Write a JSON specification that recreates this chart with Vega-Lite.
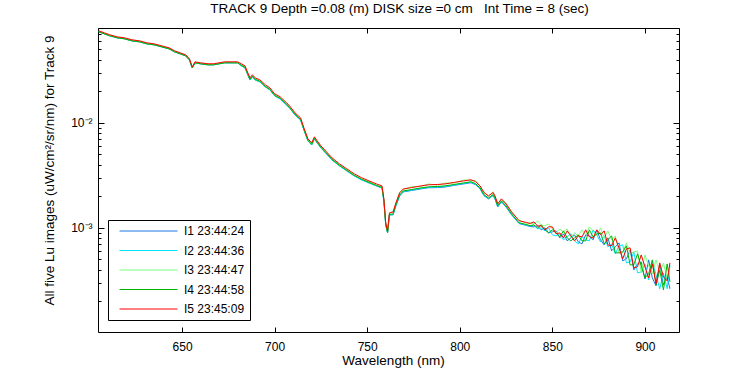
{
"$schema": "https://vega.github.io/schema/vega-lite/v6.json",
"width": 581, "height": 304,
"autosize": {"type": "none"},
"padding": {"left": 98, "top": 28, "right": 71, "bottom": 43},
"background": "white",
"config": {"font": "Liberation Sans", "view": {"stroke": "black", "strokeWidth": 1},
  "axis": {"grid": false, "domain": false, "labelFontSize": 12, "labelColor": "black", "titleFontSize": 13.5, "titleFontWeight": "normal", "titleColor": "black", "tickColor": "black", "labelFont": "Liberation Sans", "titleFont": "Liberation Sans"}},
"title": {"text": "TRACK 9 Depth =0.08 (m) DISK size =0 cm\u00a0\u00a0 Int Time = 8 (sec)", "fontSize": 13.5, "fontWeight": "normal", "color": "black", "frame": "group", "anchor": "middle", "offset": 7, "dx": 11, "font": "Liberation Sans"},
"data": {"values": [
{"s":"I1 23:44:24","w":605,"v":0.0735},{"s":"I1 23:44:24","w":608,"v":0.0704},{"s":"I1 23:44:24","w":611,"v":0.0674},{"s":"I1 23:44:24","w":615,"v":0.0645},{"s":"I1 23:44:24","w":619,"v":0.0631},{"s":"I1 23:44:24","w":623,"v":0.0603},{"s":"I1 23:44:24","w":627,"v":0.0591},{"s":"I1 23:44:24","w":631,"v":0.0565},{"s":"I1 23:44:24","w":635,"v":0.0553},{"s":"I1 23:44:24","w":639,"v":0.0529},{"s":"I1 23:44:24","w":643,"v":0.0507},{"s":"I1 23:44:24","w":646,"v":0.0474},{"s":"I1 23:44:24","w":649,"v":0.0454},{"s":"I1 23:44:24","w":652,"v":0.0434},{"s":"I1 23:44:24","w":654,"v":0.0398},{"s":"I1 23:44:24","w":655.5,"v":0.0333},{"s":"I1 23:44:24","w":657,"v":0.0373},{"s":"I1 23:44:24","w":660,"v":0.0365},{"s":"I1 23:44:24","w":664,"v":0.0357},{"s":"I1 23:44:24","w":667,"v":0.0357},{"s":"I1 23:44:24","w":670,"v":0.0365},{"s":"I1 23:44:24","w":673,"v":0.0373},{"s":"I1 23:44:24","w":677,"v":0.0373},{"s":"I1 23:44:24","w":680,"v":0.0373},
{"s":"I1 23:44:24","w":682,"v":0.0349},{"s":"I1 23:44:24","w":684,"v":0.0334},{"s":"I1 23:44:24","w":685.5,"v":0.0287},{"s":"I1 23:44:24","w":686.7,"v":0.0256},{"s":"I1 23:44:24","w":688,"v":0.0275},{"s":"I1 23:44:24","w":689.5,"v":0.0256},{"s":"I1 23:44:24","w":692,"v":0.0246},{"s":"I1 23:44:24","w":695,"v":0.0220},{"s":"I1 23:44:24","w":697.5,"v":0.0206},{"s":"I1 23:44:24","w":700,"v":0.0181},{"s":"I1 23:44:24","w":703,"v":0.0169},{"s":"I1 23:44:24","w":706.5,"v":0.0148},{"s":"I1 23:44:24","w":708.5,"v":0.0136},{"s":"I1 23:44:24","w":711,"v":0.01191},{"s":"I1 23:44:24","w":714,"v":0.01068},{"s":"I1 23:44:24","w":716,"v":0.00839},{"s":"I1 23:44:24","w":718,"v":0.00674},{"s":"I1 23:44:24","w":720,"v":0.00617},{"s":"I1 23:44:24","w":721.5,"v":0.00704},{"s":"I1 23:44:24","w":723,"v":0.00645},{"s":"I1 23:44:24","w":725,"v":0.00578},{"s":"I1 23:44:24","w":728,"v":0.00507},{"s":"I1 23:44:24","w":731,"v":0.00444},{"s":"I1 23:44:24","w":735,"v":0.00390},{"s":"I1 23:44:24","w":739,"v":0.00349},{"s":"I1 23:44:24","w":743,"v":0.00313},{"s":"I1 23:44:24","w":747,"v":0.00287},{"s":"I1 23:44:24","w":751,"v":0.00268},{"s":"I1 23:44:24","w":755,"v":0.00251},{"s":"I1 23:44:24","w":758,"v":0.00240},{"s":"I1 23:44:24","w":759,"v":0.00181},{"s":"I1 23:44:24","w":760,"v":0.00107},{"s":"I1 23:44:24","w":761,"v":0.000896},{"s":"I1 23:44:24","w":762,"v":0.00133},
{"s":"I1 23:44:24","w":764,"v":0.00133},{"s":"I1 23:44:24","w":765.5,"v":0.00162},{"s":"I1 23:44:24","w":767.5,"v":0.00201},{"s":"I1 23:44:24","w":769.5,"v":0.00220},{"s":"I1 23:44:24","w":774,"v":0.00227},{"s":"I1 23:44:24","w":779,"v":0.00235},{"s":"I1 23:44:24","w":783,"v":0.00241},{"s":"I1 23:44:24","w":788,"v":0.00242},{"s":"I1 23:44:24","w":792,"v":0.00245},{"s":"I1 23:44:24","w":797,"v":0.00254},{"s":"I1 23:44:24","w":802,"v":0.00262},{"s":"I1 23:44:24","w":806,"v":0.00269},{"s":"I1 23:44:24","w":808.5,"v":0.00258},{"s":"I1 23:44:24","w":811,"v":0.00235},{"s":"I1 23:44:24","w":813,"v":0.00203},{"s":"I1 23:44:24","w":815.5,"v":0.00189},{"s":"I1 23:44:24","w":818,"v":0.00203},{"s":"I1 23:44:24","w":819,"v":0.00189},{"s":"I1 23:44:24","w":820.5,"v":0.00158},{"s":"I1 23:44:24","w":822.5,"v":0.00177},{"s":"I1 23:44:24","w":825,"v":0.00158},{"s":"I1 23:44:24","w":828,"v":0.00133},{"s":"I1 23:44:24","w":832,"v":0.00110},{"s":"I1 23:44:24","w":835.5,"v":0.00106},{"s":"I1 23:44:24","w":838,"v":0.00103},
{"s":"I1 23:44:24","w":840,"v":0.001022},{"s":"I1 23:44:24","w":842,"v":0.001045},{"s":"I1 23:44:24","w":844,"v":0.000957},{"s":"I1 23:44:24","w":846,"v":0.001000},{"s":"I1 23:44:24","w":848,"v":0.000896},{"s":"I1 23:44:24","w":850,"v":0.000916},{"s":"I1 23:44:24","w":852,"v":0.000936},{"s":"I1 23:44:24","w":854,"v":0.000803},{"s":"I1 23:44:24","w":856,"v":0.000877},{"s":"I1 23:44:24","w":858,"v":0.000752},{"s":"I1 23:44:24","w":860,"v":0.000803},{"s":"I1 23:44:24","w":862,"v":0.000858},{"s":"I1 23:44:24","w":864,"v":0.000736},{"s":"I1 23:44:24","w":866,"v":0.000704},{"s":"I1 23:44:24","w":868,"v":0.000858},{"s":"I1 23:44:24","w":870,"v":0.000839},{"s":"I1 23:44:24","w":872,"v":0.000769},{"s":"I1 23:44:24","w":874,"v":0.000957},{"s":"I1 23:44:24","w":876,"v":0.000769},{"s":"I1 23:44:24","w":878,"v":0.000689},{"s":"I1 23:44:24","w":880,"v":0.000803},{"s":"I1 23:44:24","w":882,"v":0.000604},{"s":"I1 23:44:24","w":884,"v":0.000659},{"s":"I1 23:44:24","w":886,"v":0.000720},{"s":"I1 23:44:24","w":888,"v":0.000485},{"s":"I1 23:44:24","w":890,"v":0.000507},{"s":"I1 23:44:24","w":892,"v":0.000617},{"s":"I1 23:44:24","w":894,"v":0.000398},{"s":"I1 23:44:24","w":896,"v":0.000455},{"s":"I1 23:44:24","w":898,"v":0.000474},{"s":"I1 23:44:24","w":900,"v":0.000326},{"s":"I1 23:44:24","w":902,"v":0.000496},{"s":"I1 23:44:24","w":904,"v":0.000334},{"s":"I1 23:44:24","w":906,"v":0.000280},{"s":"I1 23:44:24","w":908,"v":0.000444},{"s":"I1 23:44:24","w":910,"v":0.000286},{"s":"I1 23:44:24","w":912,"v":0.000342},{"s":"I1 23:44:24","w":913.5,"v":0.000263},

{"s":"I2 23:44:36","w":605,"v":0.0735},{"s":"I2 23:44:36","w":608,"v":0.0704},{"s":"I2 23:44:36","w":611,"v":0.0674},{"s":"I2 23:44:36","w":615,"v":0.0645},{"s":"I2 23:44:36","w":619,"v":0.0631},{"s":"I2 23:44:36","w":623,"v":0.0603},{"s":"I2 23:44:36","w":627,"v":0.0591},{"s":"I2 23:44:36","w":631,"v":0.0565},{"s":"I2 23:44:36","w":635,"v":0.0553},{"s":"I2 23:44:36","w":639,"v":0.0529},{"s":"I2 23:44:36","w":643,"v":0.0507},{"s":"I2 23:44:36","w":646,"v":0.0474},{"s":"I2 23:44:36","w":649,"v":0.0454},{"s":"I2 23:44:36","w":652,"v":0.0434},{"s":"I2 23:44:36","w":654,"v":0.0398},{"s":"I2 23:44:36","w":655.5,"v":0.0333},{"s":"I2 23:44:36","w":657,"v":0.0373},{"s":"I2 23:44:36","w":660,"v":0.0365},{"s":"I2 23:44:36","w":664,"v":0.0357},{"s":"I2 23:44:36","w":667,"v":0.0357},{"s":"I2 23:44:36","w":670,"v":0.0365},{"s":"I2 23:44:36","w":673,"v":0.0373},{"s":"I2 23:44:36","w":677,"v":0.0373},{"s":"I2 23:44:36","w":680,"v":0.0373},
{"s":"I2 23:44:36","w":682,"v":0.0349},{"s":"I2 23:44:36","w":684,"v":0.0334},{"s":"I2 23:44:36","w":685.5,"v":0.0287},{"s":"I2 23:44:36","w":686.7,"v":0.0256},{"s":"I2 23:44:36","w":688,"v":0.0275},{"s":"I2 23:44:36","w":689.5,"v":0.0256},{"s":"I2 23:44:36","w":692,"v":0.0246},{"s":"I2 23:44:36","w":695,"v":0.0220},{"s":"I2 23:44:36","w":697.5,"v":0.0206},{"s":"I2 23:44:36","w":700,"v":0.0181},{"s":"I2 23:44:36","w":703,"v":0.0169},{"s":"I2 23:44:36","w":706.5,"v":0.0148},{"s":"I2 23:44:36","w":708.5,"v":0.0136},{"s":"I2 23:44:36","w":711,"v":0.01191},{"s":"I2 23:44:36","w":714,"v":0.01068},{"s":"I2 23:44:36","w":716,"v":0.00839},{"s":"I2 23:44:36","w":718,"v":0.00674},{"s":"I2 23:44:36","w":720,"v":0.00617},{"s":"I2 23:44:36","w":721.5,"v":0.00704},{"s":"I2 23:44:36","w":723,"v":0.00645},{"s":"I2 23:44:36","w":725,"v":0.00578},{"s":"I2 23:44:36","w":728,"v":0.00507},{"s":"I2 23:44:36","w":731,"v":0.00444},{"s":"I2 23:44:36","w":735,"v":0.00390},{"s":"I2 23:44:36","w":739,"v":0.00349},{"s":"I2 23:44:36","w":743,"v":0.00313},{"s":"I2 23:44:36","w":747,"v":0.00287},{"s":"I2 23:44:36","w":751,"v":0.00268},{"s":"I2 23:44:36","w":755,"v":0.00251},{"s":"I2 23:44:36","w":758,"v":0.00240},{"s":"I2 23:44:36","w":759,"v":0.00181},{"s":"I2 23:44:36","w":760,"v":0.00107},{"s":"I2 23:44:36","w":761,"v":0.000896},{"s":"I2 23:44:36","w":762,"v":0.00133},
{"s":"I2 23:44:36","w":764,"v":0.00134},{"s":"I2 23:44:36","w":765.5,"v":0.00164},{"s":"I2 23:44:36","w":767.5,"v":0.00203},{"s":"I2 23:44:36","w":769.5,"v":0.00222},{"s":"I2 23:44:36","w":774,"v":0.00229},{"s":"I2 23:44:36","w":779,"v":0.00237},{"s":"I2 23:44:36","w":783,"v":0.00243},{"s":"I2 23:44:36","w":788,"v":0.00245},{"s":"I2 23:44:36","w":792,"v":0.00248},{"s":"I2 23:44:36","w":797,"v":0.00256},{"s":"I2 23:44:36","w":802,"v":0.00265},{"s":"I2 23:44:36","w":806,"v":0.00272},{"s":"I2 23:44:36","w":808.5,"v":0.00261},{"s":"I2 23:44:36","w":811,"v":0.00237},{"s":"I2 23:44:36","w":813,"v":0.00205},{"s":"I2 23:44:36","w":815.5,"v":0.00191},{"s":"I2 23:44:36","w":818,"v":0.00205},{"s":"I2 23:44:36","w":819,"v":0.00191},{"s":"I2 23:44:36","w":820.5,"v":0.00160},{"s":"I2 23:44:36","w":822.5,"v":0.00179},{"s":"I2 23:44:36","w":825,"v":0.00160},{"s":"I2 23:44:36","w":828,"v":0.00134},{"s":"I2 23:44:36","w":832,"v":0.00111},{"s":"I2 23:44:36","w":835.5,"v":0.00107},{"s":"I2 23:44:36","w":838,"v":0.00104},
{"s":"I2 23:44:36","w":840,"v":0.001068},{"s":"I2 23:44:36","w":842,"v":0.000978},{"s":"I2 23:44:36","w":844,"v":0.001000},{"s":"I2 23:44:36","w":846,"v":0.000936},{"s":"I2 23:44:36","w":848,"v":0.001000},{"s":"I2 23:44:36","w":850,"v":0.000858},{"s":"I2 23:44:36","w":852,"v":0.000839},{"s":"I2 23:44:36","w":854,"v":0.000876},{"s":"I2 23:44:36","w":856,"v":0.000769},{"s":"I2 23:44:36","w":858,"v":0.000821},{"s":"I2 23:44:36","w":860,"v":0.000877},{"s":"I2 23:44:36","w":862,"v":0.000752},{"s":"I2 23:44:36","w":864,"v":0.000704},{"s":"I2 23:44:36","w":866,"v":0.000821},{"s":"I2 23:44:36","w":868,"v":0.000769},{"s":"I2 23:44:36","w":870,"v":0.000752},{"s":"I2 23:44:36","w":872,"v":0.000957},{"s":"I2 23:44:36","w":874,"v":0.000857},{"s":"I2 23:44:36","w":876,"v":0.000736},{"s":"I2 23:44:36","w":878,"v":0.000839},{"s":"I2 23:44:36","w":880,"v":0.000659},{"s":"I2 23:44:36","w":882,"v":0.000704},{"s":"I2 23:44:36","w":884,"v":0.000566},{"s":"I2 23:44:36","w":886,"v":0.000674},{"s":"I2 23:44:36","w":888,"v":0.000689},{"s":"I2 23:44:36","w":890,"v":0.000464},{"s":"I2 23:44:36","w":892,"v":0.000474},{"s":"I2 23:44:36","w":894,"v":0.000591},{"s":"I2 23:44:36","w":896,"v":0.000373},{"s":"I2 23:44:36","w":898,"v":0.000381},{"s":"I2 23:44:36","w":900,"v":0.000454},{"s":"I2 23:44:36","w":902,"v":0.000319},{"s":"I2 23:44:36","w":904,"v":0.000485},{"s":"I2 23:44:36","w":906,"v":0.000357},{"s":"I2 23:44:36","w":908,"v":0.000263},{"s":"I2 23:44:36","w":910,"v":0.000372},{"s":"I2 23:44:36","w":912,"v":0.000263},{"s":"I2 23:44:36","w":913.5,"v":0.000444},

{"s":"I3 23:44:47","w":605,"v":0.0744},{"s":"I3 23:44:47","w":608,"v":0.0712},{"s":"I3 23:44:47","w":611,"v":0.0681},{"s":"I3 23:44:47","w":615,"v":0.0652},{"s":"I3 23:44:47","w":619,"v":0.0638},{"s":"I3 23:44:47","w":623,"v":0.0610},{"s":"I3 23:44:47","w":627,"v":0.0597},{"s":"I3 23:44:47","w":631,"v":0.0572},{"s":"I3 23:44:47","w":635,"v":0.0559},{"s":"I3 23:44:47","w":639,"v":0.0535},{"s":"I3 23:44:47","w":643,"v":0.0512},{"s":"I3 23:44:47","w":646,"v":0.0480},{"s":"I3 23:44:47","w":649,"v":0.0459},{"s":"I3 23:44:47","w":652,"v":0.0439},{"s":"I3 23:44:47","w":654,"v":0.0403},{"s":"I3 23:44:47","w":655.5,"v":0.0337},{"s":"I3 23:44:47","w":657,"v":0.0377},{"s":"I3 23:44:47","w":660,"v":0.0369},{"s":"I3 23:44:47","w":664,"v":0.0361},{"s":"I3 23:44:47","w":667,"v":0.0361},{"s":"I3 23:44:47","w":670,"v":0.0369},{"s":"I3 23:44:47","w":673,"v":0.0377},{"s":"I3 23:44:47","w":677,"v":0.0377},{"s":"I3 23:44:47","w":680,"v":0.0377},
{"s":"I3 23:44:47","w":682,"v":0.0357},{"s":"I3 23:44:47","w":684,"v":0.0341},{"s":"I3 23:44:47","w":685.5,"v":0.0293},{"s":"I3 23:44:47","w":686.7,"v":0.0262},{"s":"I3 23:44:47","w":688,"v":0.0281},{"s":"I3 23:44:47","w":689.5,"v":0.0262},{"s":"I3 23:44:47","w":692,"v":0.0251},{"s":"I3 23:44:47","w":695,"v":0.0225},{"s":"I3 23:44:47","w":697.5,"v":0.0210},{"s":"I3 23:44:47","w":700,"v":0.0185},{"s":"I3 23:44:47","w":703,"v":0.0173},{"s":"I3 23:44:47","w":706.5,"v":0.0152},{"s":"I3 23:44:47","w":708.5,"v":0.0139},{"s":"I3 23:44:47","w":711,"v":0.01218},{"s":"I3 23:44:47","w":714,"v":0.01091},{"s":"I3 23:44:47","w":716,"v":0.00858},{"s":"I3 23:44:47","w":718,"v":0.00689},{"s":"I3 23:44:47","w":720,"v":0.00631},{"s":"I3 23:44:47","w":721.5,"v":0.00720},{"s":"I3 23:44:47","w":723,"v":0.00659},{"s":"I3 23:44:47","w":725,"v":0.00591},{"s":"I3 23:44:47","w":728,"v":0.00518},{"s":"I3 23:44:47","w":731,"v":0.00454},{"s":"I3 23:44:47","w":735,"v":0.00398},{"s":"I3 23:44:47","w":739,"v":0.00357},{"s":"I3 23:44:47","w":743,"v":0.00320},{"s":"I3 23:44:47","w":747,"v":0.00293},{"s":"I3 23:44:47","w":751,"v":0.00274},{"s":"I3 23:44:47","w":755,"v":0.00256},{"s":"I3 23:44:47","w":758,"v":0.00245},{"s":"I3 23:44:47","w":759,"v":0.00185},{"s":"I3 23:44:47","w":760,"v":0.00110},{"s":"I3 23:44:47","w":761,"v":0.000915},{"s":"I3 23:44:47","w":762,"v":0.00136},
{"s":"I3 23:44:47","w":764,"v":0.00145},{"s":"I3 23:44:47","w":765.5,"v":0.00170},{"s":"I3 23:44:47","w":767.5,"v":0.00219},{"s":"I3 23:44:47","w":769.5,"v":0.00231},{"s":"I3 23:44:47","w":774,"v":0.00247},{"s":"I3 23:44:47","w":779,"v":0.00247},{"s":"I3 23:44:47","w":783,"v":0.00262},{"s":"I3 23:44:47","w":788,"v":0.00255},{"s":"I3 23:44:47","w":792,"v":0.00267},{"s":"I3 23:44:47","w":797,"v":0.00267},{"s":"I3 23:44:47","w":802,"v":0.00286},{"s":"I3 23:44:47","w":806,"v":0.00283},{"s":"I3 23:44:47","w":808.5,"v":0.00282},{"s":"I3 23:44:47","w":811,"v":0.00247},{"s":"I3 23:44:47","w":813,"v":0.00221},{"s":"I3 23:44:47","w":815.5,"v":0.00199},{"s":"I3 23:44:47","w":818,"v":0.00221},{"s":"I3 23:44:47","w":819,"v":0.00199},{"s":"I3 23:44:47","w":820.5,"v":0.00172},{"s":"I3 23:44:47","w":822.5,"v":0.00186},{"s":"I3 23:44:47","w":825,"v":0.00172},{"s":"I3 23:44:47","w":828,"v":0.00140},{"s":"I3 23:44:47","w":832,"v":0.00119},{"s":"I3 23:44:47","w":835.5,"v":0.00111},{"s":"I3 23:44:47","w":838,"v":0.00112},
{"s":"I3 23:44:47","w":840,"v":0.001092},{"s":"I3 23:44:47","w":842,"v":0.001166},{"s":"I3 23:44:47","w":844,"v":0.001068},{"s":"I3 23:44:47","w":846,"v":0.001045},{"s":"I3 23:44:47","w":848,"v":0.001091},{"s":"I3 23:44:47","w":850,"v":0.000978},{"s":"I3 23:44:47","w":852,"v":0.000896},{"s":"I3 23:44:47","w":854,"v":0.000978},{"s":"I3 23:44:47","w":856,"v":0.000916},{"s":"I3 23:44:47","w":858,"v":0.000979},{"s":"I3 23:44:47","w":860,"v":0.000803},{"s":"I3 23:44:47","w":862,"v":0.000897},{"s":"I3 23:44:47","w":864,"v":0.000839},{"s":"I3 23:44:47","w":866,"v":0.000957},{"s":"I3 23:44:47","w":868,"v":0.000858},{"s":"I3 23:44:47","w":870,"v":0.001023},{"s":"I3 23:44:47","w":872,"v":0.000936},{"s":"I3 23:44:47","w":874,"v":0.000839},{"s":"I3 23:44:47","w":876,"v":0.001000},{"s":"I3 23:44:47","w":878,"v":0.000803},{"s":"I3 23:44:47","w":880,"v":0.000937},{"s":"I3 23:44:47","w":882,"v":0.000769},{"s":"I3 23:44:47","w":884,"v":0.000839},{"s":"I3 23:44:47","w":886,"v":0.000578},{"s":"I3 23:44:47","w":888,"v":0.000578},{"s":"I3 23:44:47","w":890,"v":0.000720},{"s":"I3 23:44:47","w":892,"v":0.000565},{"s":"I3 23:44:47","w":894,"v":0.000591},{"s":"I3 23:44:47","w":896,"v":0.000605},{"s":"I3 23:44:47","w":898,"v":0.000373},{"s":"I3 23:44:47","w":900,"v":0.000553},{"s":"I3 23:44:47","w":902,"v":0.000435},{"s":"I3 23:44:47","w":904,"v":0.000365},{"s":"I3 23:44:47","w":906,"v":0.000496},{"s":"I3 23:44:47","w":908,"v":0.000373},{"s":"I3 23:44:47","w":910,"v":0.000463},{"s":"I3 23:44:47","w":912,"v":0.000327},{"s":"I3 23:44:47","w":913.5,"v":0.000426},

{"s":"I4 23:44:58","w":605,"v":0.0735},{"s":"I4 23:44:58","w":608,"v":0.0704},{"s":"I4 23:44:58","w":611,"v":0.0674},{"s":"I4 23:44:58","w":615,"v":0.0645},{"s":"I4 23:44:58","w":619,"v":0.0631},{"s":"I4 23:44:58","w":623,"v":0.0603},{"s":"I4 23:44:58","w":627,"v":0.0591},{"s":"I4 23:44:58","w":631,"v":0.0565},{"s":"I4 23:44:58","w":635,"v":0.0553},{"s":"I4 23:44:58","w":639,"v":0.0529},{"s":"I4 23:44:58","w":643,"v":0.0507},{"s":"I4 23:44:58","w":646,"v":0.0474},{"s":"I4 23:44:58","w":649,"v":0.0454},{"s":"I4 23:44:58","w":652,"v":0.0434},{"s":"I4 23:44:58","w":654,"v":0.0398},{"s":"I4 23:44:58","w":655.5,"v":0.0333},{"s":"I4 23:44:58","w":657,"v":0.0373},{"s":"I4 23:44:58","w":660,"v":0.0365},{"s":"I4 23:44:58","w":664,"v":0.0357},{"s":"I4 23:44:58","w":667,"v":0.0357},{"s":"I4 23:44:58","w":670,"v":0.0365},{"s":"I4 23:44:58","w":673,"v":0.0373},{"s":"I4 23:44:58","w":677,"v":0.0373},{"s":"I4 23:44:58","w":680,"v":0.0373},
{"s":"I4 23:44:58","w":682,"v":0.0353},{"s":"I4 23:44:58","w":684,"v":0.0337},{"s":"I4 23:44:58","w":685.5,"v":0.0290},{"s":"I4 23:44:58","w":686.7,"v":0.0259},{"s":"I4 23:44:58","w":688,"v":0.0278},{"s":"I4 23:44:58","w":689.5,"v":0.0259},{"s":"I4 23:44:58","w":692,"v":0.0249},{"s":"I4 23:44:58","w":695,"v":0.0222},{"s":"I4 23:44:58","w":697.5,"v":0.0208},{"s":"I4 23:44:58","w":700,"v":0.0183},{"s":"I4 23:44:58","w":703,"v":0.0171},{"s":"I4 23:44:58","w":706.5,"v":0.0150},{"s":"I4 23:44:58","w":708.5,"v":0.0137},{"s":"I4 23:44:58","w":711,"v":0.01204},{"s":"I4 23:44:58","w":714,"v":0.01079},{"s":"I4 23:44:58","w":716,"v":0.00848},{"s":"I4 23:44:58","w":718,"v":0.00681},{"s":"I4 23:44:58","w":720,"v":0.00624},{"s":"I4 23:44:58","w":721.5,"v":0.00712},{"s":"I4 23:44:58","w":723,"v":0.00652},{"s":"I4 23:44:58","w":725,"v":0.00584},{"s":"I4 23:44:58","w":728,"v":0.00513},{"s":"I4 23:44:58","w":731,"v":0.00449},{"s":"I4 23:44:58","w":735,"v":0.00394},{"s":"I4 23:44:58","w":739,"v":0.00353},{"s":"I4 23:44:58","w":743,"v":0.00316},{"s":"I4 23:44:58","w":747,"v":0.00290},{"s":"I4 23:44:58","w":751,"v":0.00271},{"s":"I4 23:44:58","w":755,"v":0.00253},{"s":"I4 23:44:58","w":758,"v":0.00243},{"s":"I4 23:44:58","w":759,"v":0.00183},{"s":"I4 23:44:58","w":760,"v":0.00108},{"s":"I4 23:44:58","w":761,"v":0.000905},{"s":"I4 23:44:58","w":762,"v":0.00134},
{"s":"I4 23:44:58","w":764,"v":0.00136},{"s":"I4 23:44:58","w":765.5,"v":0.00166},{"s":"I4 23:44:58","w":767.5,"v":0.00206},{"s":"I4 23:44:58","w":769.5,"v":0.00225},{"s":"I4 23:44:58","w":774,"v":0.00232},{"s":"I4 23:44:58","w":779,"v":0.00240},{"s":"I4 23:44:58","w":783,"v":0.00246},{"s":"I4 23:44:58","w":788,"v":0.00248},{"s":"I4 23:44:58","w":792,"v":0.00251},{"s":"I4 23:44:58","w":797,"v":0.00259},{"s":"I4 23:44:58","w":802,"v":0.00268},{"s":"I4 23:44:58","w":806,"v":0.00275},{"s":"I4 23:44:58","w":808.5,"v":0.00264},{"s":"I4 23:44:58","w":811,"v":0.00240},{"s":"I4 23:44:58","w":813,"v":0.00208},{"s":"I4 23:44:58","w":815.5,"v":0.00193},{"s":"I4 23:44:58","w":818,"v":0.00208},{"s":"I4 23:44:58","w":819,"v":0.00193},{"s":"I4 23:44:58","w":820.5,"v":0.00162},{"s":"I4 23:44:58","w":822.5,"v":0.00181},{"s":"I4 23:44:58","w":825,"v":0.00162},{"s":"I4 23:44:58","w":828,"v":0.00136},{"s":"I4 23:44:58","w":832,"v":0.00112},{"s":"I4 23:44:58","w":835.5,"v":0.00108},{"s":"I4 23:44:58","w":838,"v":0.00105},
{"s":"I4 23:44:58","w":840,"v":0.001068},{"s":"I4 23:44:58","w":842,"v":0.001000},{"s":"I4 23:44:58","w":844,"v":0.001068},{"s":"I4 23:44:58","w":846,"v":0.000957},{"s":"I4 23:44:58","w":848,"v":0.000896},{"s":"I4 23:44:58","w":850,"v":0.000957},{"s":"I4 23:44:58","w":852,"v":0.000896},{"s":"I4 23:44:58","w":854,"v":0.000821},{"s":"I4 23:44:58","w":856,"v":0.000937},{"s":"I4 23:44:58","w":858,"v":0.000803},{"s":"I4 23:44:58","w":860,"v":0.000752},{"s":"I4 23:44:58","w":862,"v":0.000803},{"s":"I4 23:44:58","w":864,"v":0.000858},{"s":"I4 23:44:58","w":866,"v":0.000752},{"s":"I4 23:44:58","w":868,"v":0.000752},{"s":"I4 23:44:58","w":870,"v":0.000958},{"s":"I4 23:44:58","w":872,"v":0.000821},{"s":"I4 23:44:58","w":874,"v":0.000876},{"s":"I4 23:44:58","w":876,"v":0.000897},{"s":"I4 23:44:58","w":878,"v":0.000704},{"s":"I4 23:44:58","w":880,"v":0.000769},{"s":"I4 23:44:58","w":882,"v":0.000840},{"s":"I4 23:44:58","w":884,"v":0.000578},{"s":"I4 23:44:58","w":886,"v":0.000578},{"s":"I4 23:44:58","w":888,"v":0.000591},{"s":"I4 23:44:58","w":890,"v":0.000674},{"s":"I4 23:44:58","w":892,"v":0.000444},{"s":"I4 23:44:58","w":894,"v":0.000445},{"s":"I4 23:44:58","w":896,"v":0.000566},{"s":"I4 23:44:58","w":898,"v":0.000434},{"s":"I4 23:44:58","w":900,"v":0.000334},{"s":"I4 23:44:58","w":902,"v":0.000365},{"s":"I4 23:44:58","w":904,"v":0.000496},{"s":"I4 23:44:58","w":906,"v":0.000286},{"s":"I4 23:44:58","w":908,"v":0.000398},{"s":"I4 23:44:58","w":910,"v":0.000256},{"s":"I4 23:44:58","w":912,"v":0.000454},{"s":"I4 23:44:58","w":913.5,"v":0.000306},

{"s":"I5 23:45:09","w":605,"v":0.0752},{"s":"I5 23:45:09","w":608,"v":0.0720},{"s":"I5 23:45:09","w":611,"v":0.0689},{"s":"I5 23:45:09","w":615,"v":0.0659},{"s":"I5 23:45:09","w":619,"v":0.0645},{"s":"I5 23:45:09","w":623,"v":0.0617},{"s":"I5 23:45:09","w":627,"v":0.0604},{"s":"I5 23:45:09","w":631,"v":0.0578},{"s":"I5 23:45:09","w":635,"v":0.0565},{"s":"I5 23:45:09","w":639,"v":0.0541},{"s":"I5 23:45:09","w":643,"v":0.0518},{"s":"I5 23:45:09","w":646,"v":0.0485},{"s":"I5 23:45:09","w":649,"v":0.0464},{"s":"I5 23:45:09","w":652,"v":0.0444},{"s":"I5 23:45:09","w":654,"v":0.0407},{"s":"I5 23:45:09","w":655.5,"v":0.0341},{"s":"I5 23:45:09","w":657,"v":0.0381},{"s":"I5 23:45:09","w":660,"v":0.0373},{"s":"I5 23:45:09","w":664,"v":0.0365},{"s":"I5 23:45:09","w":667,"v":0.0365},{"s":"I5 23:45:09","w":670,"v":0.0373},{"s":"I5 23:45:09","w":673,"v":0.0381},{"s":"I5 23:45:09","w":677,"v":0.0381},{"s":"I5 23:45:09","w":680,"v":0.0381},
{"s":"I5 23:45:09","w":682,"v":0.0365},{"s":"I5 23:45:09","w":684,"v":0.0349},{"s":"I5 23:45:09","w":685.5,"v":0.0300},{"s":"I5 23:45:09","w":686.7,"v":0.0268},{"s":"I5 23:45:09","w":688,"v":0.0287},{"s":"I5 23:45:09","w":689.5,"v":0.0268},{"s":"I5 23:45:09","w":692,"v":0.0257},{"s":"I5 23:45:09","w":695,"v":0.0230},{"s":"I5 23:45:09","w":697.5,"v":0.0215},{"s":"I5 23:45:09","w":700,"v":0.0189},{"s":"I5 23:45:09","w":703,"v":0.0177},{"s":"I5 23:45:09","w":706.5,"v":0.0155},{"s":"I5 23:45:09","w":708.5,"v":0.0142},{"s":"I5 23:45:09","w":711,"v":0.01245},{"s":"I5 23:45:09","w":714,"v":0.01116},{"s":"I5 23:45:09","w":716,"v":0.00877},{"s":"I5 23:45:09","w":718,"v":0.00704},{"s":"I5 23:45:09","w":720,"v":0.00645},{"s":"I5 23:45:09","w":721.5,"v":0.00736},{"s":"I5 23:45:09","w":723,"v":0.00674},{"s":"I5 23:45:09","w":725,"v":0.00604},{"s":"I5 23:45:09","w":728,"v":0.00530},{"s":"I5 23:45:09","w":731,"v":0.00464},{"s":"I5 23:45:09","w":735,"v":0.00407},{"s":"I5 23:45:09","w":739,"v":0.00365},{"s":"I5 23:45:09","w":743,"v":0.00327},{"s":"I5 23:45:09","w":747,"v":0.00300},{"s":"I5 23:45:09","w":751,"v":0.00280},{"s":"I5 23:45:09","w":755,"v":0.00262},{"s":"I5 23:45:09","w":758,"v":0.00251},{"s":"I5 23:45:09","w":759,"v":0.00189},{"s":"I5 23:45:09","w":760,"v":0.00112},{"s":"I5 23:45:09","w":761,"v":0.000936},{"s":"I5 23:45:09","w":762,"v":0.00139},
{"s":"I5 23:45:09","w":764,"v":0.00142},{"s":"I5 23:45:09","w":765.5,"v":0.00173},{"s":"I5 23:45:09","w":767.5,"v":0.00215},{"s":"I5 23:45:09","w":769.5,"v":0.00235},{"s":"I5 23:45:09","w":774,"v":0.00242},{"s":"I5 23:45:09","w":779,"v":0.00251},{"s":"I5 23:45:09","w":783,"v":0.00257},{"s":"I5 23:45:09","w":788,"v":0.00259},{"s":"I5 23:45:09","w":792,"v":0.00262},{"s":"I5 23:45:09","w":797,"v":0.00271},{"s":"I5 23:45:09","w":802,"v":0.00280},{"s":"I5 23:45:09","w":806,"v":0.00287},{"s":"I5 23:45:09","w":808.5,"v":0.00276},{"s":"I5 23:45:09","w":811,"v":0.00251},{"s":"I5 23:45:09","w":813,"v":0.00217},{"s":"I5 23:45:09","w":815.5,"v":0.00202},{"s":"I5 23:45:09","w":818,"v":0.00217},{"s":"I5 23:45:09","w":819,"v":0.00202},{"s":"I5 23:45:09","w":820.5,"v":0.00169},{"s":"I5 23:45:09","w":822.5,"v":0.00189},{"s":"I5 23:45:09","w":825,"v":0.00169},{"s":"I5 23:45:09","w":828,"v":0.00142},{"s":"I5 23:45:09","w":832,"v":0.00117},{"s":"I5 23:45:09","w":835.5,"v":0.00113},{"s":"I5 23:45:09","w":838,"v":0.00110},
{"s":"I5 23:45:09","w":840,"v":0.001141},{"s":"I5 23:45:09","w":842,"v":0.001045},{"s":"I5 23:45:09","w":844,"v":0.001045},{"s":"I5 23:45:09","w":846,"v":0.000957},{"s":"I5 23:45:09","w":848,"v":0.001022},{"s":"I5 23:45:09","w":850,"v":0.001022},{"s":"I5 23:45:09","w":852,"v":0.000877},{"s":"I5 23:45:09","w":854,"v":0.000896},{"s":"I5 23:45:09","w":856,"v":0.000803},{"s":"I5 23:45:09","w":858,"v":0.000937},{"s":"I5 23:45:09","w":860,"v":0.000839},{"s":"I5 23:45:09","w":862,"v":0.000752},{"s":"I5 23:45:09","w":864,"v":0.000839},{"s":"I5 23:45:09","w":866,"v":0.000821},{"s":"I5 23:45:09","w":868,"v":0.000958},{"s":"I5 23:45:09","w":870,"v":0.000821},{"s":"I5 23:45:09","w":872,"v":0.000803},{"s":"I5 23:45:09","w":874,"v":0.000957},{"s":"I5 23:45:09","w":876,"v":0.000858},{"s":"I5 23:45:09","w":878,"v":0.000937},{"s":"I5 23:45:09","w":880,"v":0.000689},{"s":"I5 23:45:09","w":882,"v":0.000674},{"s":"I5 23:45:09","w":884,"v":0.000803},{"s":"I5 23:45:09","w":886,"v":0.000645},{"s":"I5 23:45:09","w":888,"v":0.000507},{"s":"I5 23:45:09","w":890,"v":0.000631},{"s":"I5 23:45:09","w":892,"v":0.000645},{"s":"I5 23:45:09","w":894,"v":0.000416},{"s":"I5 23:45:09","w":896,"v":0.000426},{"s":"I5 23:45:09","w":898,"v":0.000553},{"s":"I5 23:45:09","w":900,"v":0.000425},{"s":"I5 23:45:09","w":902,"v":0.000334},{"s":"I5 23:45:09","w":904,"v":0.000454},{"s":"I5 23:45:09","w":906,"v":0.000293},{"s":"I5 23:45:09","w":908,"v":0.000464},{"s":"I5 23:45:09","w":910,"v":0.000341},{"s":"I5 23:45:09","w":912,"v":0.000313},{"s":"I5 23:45:09","w":913.5,"v":0.000464}
]},
"layer": [
 {"mark": {"type": "line", "strokeWidth": 1},
  "encoding": {
   "x": {"field": "w", "type": "quantitative", "scale": {"domain": [604.6, 918.4], "nice": false, "zero": false},
         "axis": {"orient": "bottom", "values": [650,700,750,800,850,900], "tickSize": -5, "labelPadding": 14, "title": "Wavelength (nm)", "titleX": 295, "titleY": 32, "titleBaseline": "alphabetic", "titleAlign": "center"}},
   "y": {"field": "v", "type": "quantitative", "scale": {"type": "log", "domain": [0.000102, 0.08], "nice": false},
         "axis": {"orient": "left", "values": [0.0002,0.0003,0.0004,0.0005,0.0006,0.0007,0.0008,0.0009,0.001,0.002,0.003,0.004,0.005,0.006,0.007,0.008,0.009,0.01,0.02,0.03,0.04,0.05,0.06,0.07,0.08],
                  "tickSize": {"condition": {"test": "datum.value == 0.01 || datum.value == 0.001", "value": -6}, "value": -3},
                  "labelExpr": "datum.value == 0.01 ? '10⁻²' : (datum.value == 0.001 ? '10⁻³' : '')",
                  "labelPadding": 12, "labelOverlap": false, "labelFlush": false,
                  "title": "All five Lu images (uW/cm²/sr/nm) for Track 9", "titleX": -45, "titleY": 142, "titleBaseline": "alphabetic", "titleAngle": -90, "titleAlign": "center"}},
   "color": {"field": "s", "type": "nominal",
             "scale": {"domain": ["I1 23:44:24","I2 23:44:36","I3 23:44:47","I4 23:44:58","I5 23:45:09"], "range": ["#1a75e0","#00e5ff","#7dff7d","#00b400","#ff0000"]},
             "legend": {"orient": "none", "legendX": 10, "legendY": 192, "title": null, "symbolType": "stroke", "symbolSize": 3364, "symbolStrokeWidth": 1, "clipHeight": 12, "rowPadding": 7.5, "padding": 5, "symbolOffset": 6, "labelOffset": 6, "labelFontSize": 12, "labelFont": "Liberation Sans", "labelColor": "black", "strokeColor": "black", "fillColor": "white", "cornerRadius": 0}}
  }},
 {"mark": {"type": "line", "strokeOpacity": 0},
  "encoding": {
   "x": {"field": "w", "type": "quantitative", "scale": {"domain": [604.6, 918.4], "nice": false, "zero": false},
         "axis": {"orient": "top", "values": [650,700,750,800,850,900], "tickSize": -5, "labels": false, "title": null}},
   "y": {"field": "v", "type": "quantitative", "scale": {"type": "log", "domain": [0.000102, 0.08], "nice": false},
         "axis": {"orient": "right", "values": [0.0002,0.0003,0.0004,0.0005,0.0006,0.0007,0.0008,0.0009,0.001,0.002,0.003,0.004,0.005,0.006,0.007,0.008,0.009,0.01,0.02,0.03,0.04,0.05,0.06,0.07,0.08],
                  "tickSize": {"condition": {"test": "datum.value == 0.01 || datum.value == 0.001", "value": -6}, "value": -3},
                  "labels": false, "title": null}},
   "detail": {"field": "s", "type": "nominal"}
  }}
],
"resolve": {"axis": {"x": "independent", "y": "independent"}}
}
